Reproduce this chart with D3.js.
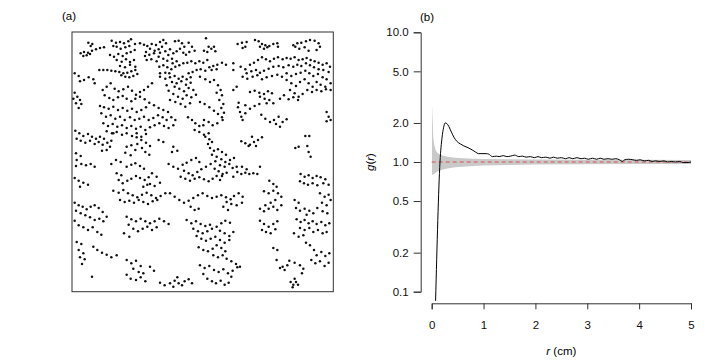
<!DOCTYPE html>
<html>
<head>
<meta charset="utf-8">
<script src="https://cdn.jsdelivr.net/npm/d3@7"></script>
<style>
  html, body { margin: 0; padding: 0; background: #fff; }
  svg { display: block; font-family: "Liberation Sans", Arial, sans-serif; }
</style>
</head>
<body>
<svg id="chart" width="720" height="360"></svg>
<script>
// panel (a): point locations, in the raw window units the pattern was digitised in
const windowX = [36, 820];
const windowY = [36, 815];
const points = [
  [85,68],[97,72],[92,78],[155,62],[168,68],[180,66],[192,70],[205,64],[213,58],[208,78],[196,82],[182,86],[170,80],[160,78],
  [225,72],[240,70],[252,74],[262,78],[275,72],[288,75],[300,66],[310,60],[318,70],[306,80],[296,88],[284,92],[270,86],[258,96],[300,98],[316,94],[330,88],[325,105],
  [345,64],[356,62],[366,70],[373,80],[360,86],[350,94],[340,100],[370,98],[386,68],[396,80],[404,92],[388,96],[378,104],
  [438,55],[446,80],[454,86],[462,80],[432,92],[442,96],[466,94],[533,72],[546,68],[560,66],[548,84],[556,80],
  [585,60],[596,64],[606,72],[616,76],[628,78],[640,72],[652,70],[600,80],[612,86],[622,82],[654,80],
  [700,76],[712,70],[724,68],[738,64],[750,60],[764,62],[776,70],[780,80],[734,82],[718,86],[706,80],[746,92],[770,90],
  [62,100],[72,96],[84,98],[96,92],[108,88],[120,84],[132,82],[70,108],[80,106],[90,102],
  [150,105],[162,110],[175,102],[188,108],[200,100],[212,96],[224,90],[170,120],[185,125],[198,118],[210,126],[222,120],[180,138],[195,142],[210,134],[226,140],
  [118,150],[130,150],[142,150],[154,152],[166,154],[178,156],[190,160],[202,158],[214,154],[226,150],[232,162],[196,170],[208,172],[184,166],[220,168],
  [255,108],[268,104],[282,100],[296,110],[310,116],[322,122],[336,116],[260,120],[274,118],[290,124],[338,130],[350,124],
  [298,140],[310,136],[322,142],[334,148],[346,140],[358,136],[370,130],[382,128],[394,124],[406,130],[418,124],[430,128],[442,120],[300,160],[316,158],[328,160],
  [448,142],[460,138],[472,134],[486,128],[498,134],[455,150],[470,148],[410,150],[422,148],[436,152],[398,156],[386,160],[520,130],[520,150],
  [542,140],[556,148],[570,134],[582,128],[594,120],[606,112],[618,118],[630,124],[642,116],[654,112],[668,118],[680,114],[692,116],[704,112],[716,120],[728,118],[740,114],[752,120],[764,124],[776,128],[788,134],[800,130],[810,140],
  [560,160],[574,154],[588,150],[600,158],[612,152],[626,146],[640,140],[656,138],[670,142],[686,136],[700,140],[712,134],[724,138],[738,130],[750,136],[762,142],[776,148],[790,150],[806,156],
  [44,160],[56,168],[72,180],[86,172],[100,178],[104,190],[60,184],
  [548,170],[562,176],[578,170],[592,166],[606,178],[620,172],[636,168],[652,164],[666,170],[680,160],[694,168],[708,162],[722,158],[736,152],[748,160],[760,168],[774,162],[788,172],[800,178],[812,190],
  [570,216],[584,212],[598,218],[612,222],[624,214],[636,220],[600,230],[614,236],[628,240],[620,250],[640,250],
  [680,180],[694,190],[708,198],[720,186],[734,178],[746,190],[758,200],[770,186],[782,194],[796,200],[690,210],[704,220],[716,230],[728,222],[742,210],[756,216],[770,210],[784,214],[798,208],[812,210],[660,236],[672,226],[686,238],[700,232],[714,240],
  [520,210],[530,200],
  [300,170],[316,176],[330,172],[344,168],[356,176],[368,170],[380,178],[392,172],[336,186],[350,190],[364,184],[378,194],[392,188],[344,200],[358,206],[372,214],[386,204],[400,210],[320,196],[326,212],[340,222],[354,230],[368,236],[380,226],[394,232],[408,224],[330,240],[346,246],[362,252],[376,260],[390,250],
  [420,170],[436,178],[450,186],[462,180],[474,196],[482,210],[470,218],[486,226],[478,240],[490,252],[484,264],[492,278],[488,300],
  [152,190],[140,200],[128,210],[164,206],[176,214],[190,208],[204,200],[216,212],[228,224],[240,216],[252,210],[264,200],[276,190],
  [44,218],[52,230],[60,240],[48,250],[64,252],[56,264],[40,236],
  [134,226],[148,234],[160,240],[174,232],[188,228],[200,236],[214,244],[226,236],[240,230],[254,238],[268,248],[282,256],[296,264],[310,270],[324,276],
  [120,258],[132,262],[146,266],[160,260],[174,270],[188,264],[202,272],[216,266],[230,276],[244,270],[258,262],[124,280],[138,290],[152,286],[166,296],[180,290],[194,300],[210,292],[224,300],[238,296],[252,290],[266,300],[280,294],[294,286],[308,292],[320,300],[334,292],[346,300],
  [130,310],[144,318],[158,312],[172,320],[186,316],[200,324],[214,318],[228,326],[242,320],[256,330],[270,322],[284,316],[298,310],[312,318],[326,324],[340,316],[140,334],[156,340],[170,336],[186,344],[200,340],[216,348],[230,340],[244,350],[258,342],
  [536,248],[534,262],[540,276],[544,290],[548,300],[556,280],[570,266],[584,258],[598,252],[556,256],
  [604,284],[616,296],[630,306],[642,300],[656,290],[648,312],[660,320],[668,306],[680,298],[800,276],[806,290],[800,304],[812,300],
  [420,246],[434,252],[448,262],[462,272],[474,282],[486,292],[432,300],[446,306],[458,316],[472,310],[430,316],
  [384,292],[396,300],[406,310],[418,318],[404,330],[418,336],[432,344],[446,340],
  [46,332],[58,340],[70,348],[84,342],[96,350],[108,356],[120,350],[132,356],[50,356],[62,362],[76,368],[90,362],[104,372],[116,366],[128,374],[142,368],[154,362],[160,340],[150,380],[140,390],[126,392],
  [230,352],[244,360],[258,368],[270,378],[232,372],[246,384],[256,396],[268,404],[200,380],[214,376],[226,390],[212,406],[196,398],
  [296,360],[310,366],[340,380],[352,392],[336,396],
  [436,350],[448,358],[444,372],[456,366],[450,384],[462,392],[474,388],[486,396],[498,404],[456,404],[470,410],[484,418],[496,426],[510,420],[522,414],[466,424],[480,436],[494,440],[508,432],[518,444],[530,440],
  [544,364],[556,370],[570,374],[582,366],[594,360],[606,352],[576,350],[566,378],[588,378],
  [736,348],[748,348],[706,384],[716,380],[742,378],[746,396],[752,410],
  [48,400],[62,408],[50,420],[64,432],[78,436],[92,432],[104,440],[48,438],
  [168,420],[182,426],[154,432],[200,440],[214,434],[226,430],[240,438],[252,446],[170,460],[184,466],[176,480],[188,490],[202,482],[214,476],[228,468],[240,474],[254,480],[266,472],[276,460],[290,470],[270,492],[284,498],[300,488],
  [326,432],[340,440],[354,446],[368,434],[380,428],[394,420],[408,414],[418,426],[372,452],[386,460],[398,466],[412,456],[424,448],[438,440],[452,432],[464,446],[476,454],[488,462],[500,458],[362,470],[376,476],[390,482],[404,476],[418,472],[432,478],[446,484],[458,476],[470,468],
  [532,456],[544,462],[556,458],[568,462],[580,460],[592,462],[546,440],[560,448],[600,440],[520,470],[486,468],[480,480],
  [628,482],[640,492],[650,500],[722,462],[734,470],[746,466],[758,474],[770,468],[782,472],[796,478],[720,484],[732,490],[744,494],[758,490],[772,496],[790,490],[806,494],
  [44,474],[56,482],[70,488],[84,494],[60,500],
  [160,512],[176,518],[190,510],[204,520],[218,526],[232,532],[246,524],[260,518],[274,526],[288,534],[302,528],[316,520],[250,500],[262,494],[180,540],[194,546],[208,542],[222,548],[236,540],[250,546],[264,552],[278,544],[292,540],
  [330,520],[344,530],[358,540],[372,548],[386,542],[400,534],[414,526],[428,520],[442,528],[456,534],[470,530],[484,526],[498,532],[512,538],[522,528],[536,520],[548,530],[546,548],[530,556],[514,552],[500,546],[490,560],[504,570],
  [612,514],[626,520],[640,512],[654,520],[664,530],[646,540],[632,548],[616,556],[600,566],[612,574],[626,566],[640,560],[652,570],[664,556],
  [780,520],[794,530],[806,524],[812,540],[786,548],[800,556],[772,564],[788,574],[802,580],
  [704,540],[716,548],[708,564],[720,572],[734,566],[748,572],[760,580],[740,584],
  [44,548],[56,556],[68,560],[80,568],[92,560],[104,556],[116,564],[128,576],[140,590],[48,572],[62,580],[76,586],[90,592],[104,600],[118,596],[130,604],
  [392,560],[404,570],[416,566],
  [200,590],[214,598],[228,604],[242,596],[256,604],[270,610],[284,604],[298,596],[312,604],[326,612],[206,614],[220,626],[234,634],[248,626],[262,620],[276,630],[290,622],[192,640],[208,650],
  [380,600],[394,610],[408,604],[422,612],[436,618],[450,614],[400,626],[414,634],[428,640],[442,634],[456,626],[470,620],[484,610],[496,602],[510,608],[480,632],[494,640],[508,648],[520,636],
  [600,602],[612,612],[626,620],[640,612],[652,604],[646,628],[632,640],[618,636],[606,630],
  [710,598],[722,606],[734,600],[746,610],[758,604],[770,612],[784,606],[796,616],[808,610],[720,624],[734,630],[748,624],[760,636],[774,630],[788,640],[800,636],[702,640],[716,650],[730,646],
  [44,602],[56,616],[70,622],[84,630],[98,622],[112,636],[124,644],
  [410,648],[424,656],[438,662],[452,656],[466,650],[480,660],[494,668],[508,660],
  [50,666],[64,672],[56,690],[70,700],[60,712],[74,718],[66,732],
  [100,680],[112,690],[126,698],[140,704],[154,712],[170,706],
  [416,682],[430,690],[444,694],[458,686],[470,676],[484,684],[496,694],[488,706],[474,712],[460,706],[500,716],[514,724],[528,732],[540,740],
  [640,684],[652,690],[738,668],[750,676],[762,690],[770,706],[784,696],[796,708],[808,700],[754,720],[766,730],[780,724],[794,738],[806,728],[720,736],[730,746],[726,760],[704,728],[688,722],[668,740],[650,720],
  [200,720],[214,730],[228,722],[242,738],[220,746],[236,756],[250,760],[270,740],[282,752],
  [420,736],[434,744],[448,738],[462,750],[476,756],[490,748],[504,760],[518,752],[532,742],[96,770],
  [200,764],[212,776],[228,780],[242,772],[256,784],
  [300,788],[314,796],[330,790],[344,782],[356,790],[366,796],[374,784],[386,778],[396,790],[352,772],[340,800],
  [430,762],[442,776],[456,784],[468,790],[482,782],[494,794],[506,788],[514,770],
  [692,786],[700,794],[708,786],[704,776],[714,794],[698,802],[660,744],[674,750],[682,736]
];

// panel (b): pair correlation function and simulation envelope
const gR = [0.075,0.16,0.20,0.23,0.26,0.29,0.33,0.38,0.43,0.48,0.55,0.62,0.70,0.78,0.85,0.90,0.95,1.05,1.10,1.17,1.25,1.30,1.38,1.45,1.52,1.60,1.68,1.75,1.82,1.90,1.98,2.05,2.12,2.20,2.28,2.35,2.42,2.50,2.58,2.65,2.72,2.80,2.88,2.95,3.02,3.10,3.18,3.25,3.32,3.40,3.48,3.55,3.62,3.68,3.72,3.80,3.88,3.95,4.02,4.10,4.18,4.25,4.32,4.40,4.48,4.55,4.62,4.70,4.78,4.85,4.92,5.00];
const gVal = [0.085,1.0,1.55,1.85,2.0,1.98,1.88,1.70,1.55,1.45,1.38,1.33,1.29,1.24,1.19,1.16,1.16,1.16,1.15,1.10,1.11,1.10,1.12,1.10,1.11,1.13,1.10,1.11,1.09,1.10,1.08,1.10,1.08,1.09,1.07,1.09,1.07,1.08,1.06,1.08,1.06,1.08,1.06,1.07,1.05,1.07,1.05,1.07,1.05,1.06,1.05,1.06,1.04,1.01,1.04,1.05,1.04,1.03,1.04,1.02,1.03,1.01,1.02,1.01,1.02,1.00,1.01,1.00,1.01,0.99,0.99,1.00];
const envR  = [0.005,0.02,0.03,0.05,0.08,0.12,0.20,0.30,0.45,0.60,0.80,1.00,1.50,2.00,3.00,4.00,5.00];
const envLo = [0.79,0.80,0.80,0.81,0.83,0.85,0.87,0.89,0.91,0.92,0.93,0.94,0.95,0.955,0.96,0.965,0.965];
const envHi = [2.83,2.00,1.55,1.35,1.22,1.17,1.12,1.10,1.08,1.07,1.06,1.055,1.05,1.045,1.04,1.04,1.035];

const yTicks = [0.1, 0.2, 0.5, 1, 2, 5, 10];
const xTicks = [0, 1, 2, 3, 4, 5];

const svg = d3.select('#chart');
const fs = 11.5;

// ---- panel (a) ----
const ax = d3.scaleLinear().domain(windowX).range([72, 333.3]);
const ay = d3.scaleLinear().domain(windowY).range([32, 291.7]);

svg.append('rect')
  .attr('x', ax(windowX[0])).attr('y', ay(windowY[0]))
  .attr('width', ax(windowX[1]) - ax(windowX[0]))
  .attr('height', ay(windowY[1]) - ay(windowY[0]))
  .attr('fill', 'none').attr('stroke', '#333').attr('stroke-width', 1);

svg.append('g').selectAll('circle')
  .data(points)
  .enter().append('circle')
  .attr('cx', d => ax(d[0]))
  .attr('cy', d => ay(d[1]))
  .attr('r', 1.25)
  .attr('fill', '#111');

svg.append('text').attr('x', 62).attr('y', 20).attr('font-size', fs).text('(a)');

// ---- panel (b) ----
const x = d3.scaleLinear().domain([0, 5]).range([431.7, 691]);
const y = d3.scaleLog().domain([0.1, 10]).range([291.7, 32.3]);

svg.append('defs').append('clipPath').attr('id', 'plotclip')
  .append('rect').attr('x', x(-0.2)).attr('y', y(10) - 10.4)
  .attr('width', x(5.2) - x(-0.2)).attr('height', y(0.1) - y(10) + 20.8);

const plot = svg.append('g').attr('clip-path', 'url(#plotclip)');

const env = envR.map((r, i) => ({ r, lo: envLo[i], hi: envHi[i] }));
plot.append('path')
  .datum(env)
  .attr('fill', '#c9c9c9')
  .attr('d', d3.area().x(d => x(d.r)).y0(d => y(d.lo)).y1(d => y(d.hi)));

plot.append('line')
  .attr('x1', x(0)).attr('x2', x(5))
  .attr('y1', y(1)).attr('y2', y(1))
  .attr('stroke', 'rgba(215,70,70,0.6)')
  .attr('stroke-width', 1.3)
  .attr('stroke-dasharray', '4,3');

const g = gR.map((r, i) => ({ r, v: gVal[i] }));
plot.append('path')
  .datum(g)
  .attr('fill', 'none')
  .attr('stroke', '#000')
  .attr('stroke-width', 1)
  .attr('d', d3.line().x(d => x(d.r)).y(d => y(d.v)).curve(d3.curveMonotoneX));

const yAxis = svg.append('g')
  .attr('transform', 'translate(420.7,0)')
  .call(d3.axisLeft(y).tickValues(yTicks).tickFormat(d3.format('.1f')).tickSizeOuter(0).tickSize(7).tickPadding(5));

const xAxis = svg.append('g')
  .attr('transform', 'translate(0,303.3)')
  .call(d3.axisBottom(x).tickValues(xTicks).tickFormat(d3.format('d')).tickSizeOuter(0).tickSize(6).tickPadding(12));

[yAxis, xAxis].forEach(a => {
  a.selectAll('path, line').attr('stroke', '#333');
  a.selectAll('text').attr('font-size', fs).attr('fill', '#111')
    .attr('font-family', '"Liberation Sans", Arial, sans-serif');
});

svg.append('text').attr('x', 420).attr('y', 21).attr('font-size', fs).text('(b)');

const xl = svg.append('text').attr('x', x(2.5)).attr('y', 355)
  .attr('text-anchor', 'middle').attr('font-size', fs);
xl.append('tspan').attr('font-style', 'italic').text('r');
xl.append('tspan').text(' (cm)');

const yl = svg.append('text')
  .attr('transform', `translate(374,${y(1)}) rotate(-90)`)
  .attr('text-anchor', 'middle').attr('font-size', fs);
yl.append('tspan').attr('font-style', 'italic').text('g');
yl.append('tspan').text('(');
yl.append('tspan').attr('font-style', 'italic').text('r');
yl.append('tspan').text(')');
</script>
</body>
</html>
